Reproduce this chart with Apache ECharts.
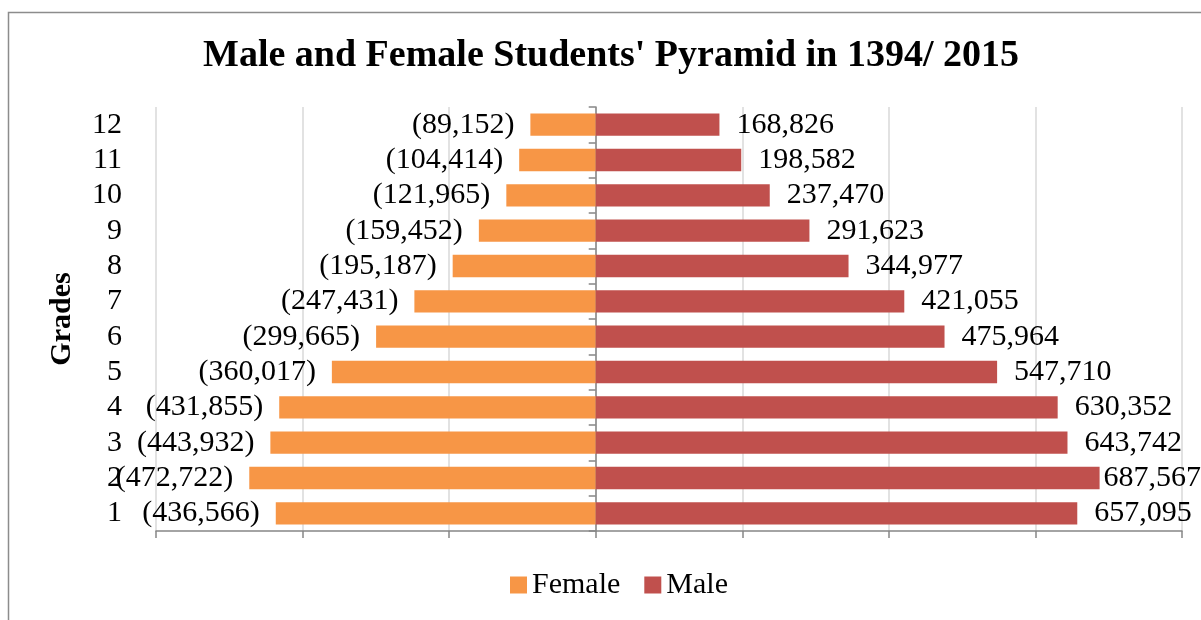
<!DOCTYPE html>
<html>
<head>
<meta charset="utf-8">
<script src="https://cdn.jsdelivr.net/npm/echarts@6/dist/echarts.min.js"></script>
<style>
  html, body { margin: 0; padding: 0; background: #fff; }
  #chart { width: 1201px; height: 620px; }
</style>
</head>
<body>
<div id="chart"></div>
<script>
// grades, bottom to top
var grades = ['1', '2', '3', '4', '5', '6', '7', '8', '9', '10', '11', '12'];
var female = [436566, 472722, 443932, 431855, 360017, 299665, 247431, 195187, 159452, 121965, 104414, 89152];
var male = [657095, 687567, 643742, 630352, 547710, 475964, 421055, 344977, 291623, 237470, 198582, 168826];

var font = 'Liberation Serif';
function fmt(v) {
    return Math.abs(v).toLocaleString('en-US');
}

var myChart = echarts.init(document.getElementById('chart'));
var option = {
    textStyle: { fontFamily: font },
    graphic: [{
        type: 'rect',
        shape: { x: 8.5, y: 12.5, width: 1300, height: 700 },
        style: { fill: 'none', stroke: '#8c8c8c', lineWidth: 1.5 }
    }],
    title: {
        text: "Male and Female Students' Pyramid in 1394/ 2015",
        left: 606,
        textAlign: 'center',
        top: 32,
        textStyle: { fontFamily: font, fontSize: 38, fontWeight: 'bold', color: '#000' }
    },
    legend: {
        data: ['Female', 'Male'],
        left: 505,
        top: 565,
        icon: 'rect',
        itemWidth: 17,
        itemHeight: 17,
        itemGap: 24,
        textStyle: { fontFamily: font, fontSize: 30, color: '#000' }
    },
    grid: { left: 156, right: 19, top: 107, bottom: 89 },
    xAxis: {
        type: 'value',
        min: -600000,
        max: 800000,
        interval: 200000,
        axisLabel: { show: false },
        axisLine: { show: true, lineStyle: { color: '#868686', width: 1.5 } },
        axisTick: { show: true, length: 7, lineStyle: { color: '#868686', width: 1.5 } },
        splitLine: { show: true, lineStyle: { color: '#d9d9d9', width: 1.5 } }
    },
    yAxis: [{
        type: 'category',
        data: grades,
        axisLine: { show: true, onZero: true, lineStyle: { color: '#868686', width: 1.5 } },
        axisTick: { show: true, length: 7, lineStyle: { color: '#868686', width: 1.5 } },
        axisLabel: { show: false }
    }, {
        type: 'category',
        data: grades,
        position: 'left',
        axisLine: { show: false, onZero: false },
        axisTick: { show: false },
        axisLabel: { show: true, interval: 0, margin: 34, color: '#000', fontFamily: font, fontSize: 30 },
        name: 'Grades',
        nameLocation: 'middle',
        nameGap: 79,
        nameTextStyle: { fontFamily: font, fontSize: 30, fontWeight: 'bold', color: '#000' }
    }],
    series: [{
        name: 'Female',
        type: 'bar',
        stack: 'total',
        barWidth: '63%',
        itemStyle: { color: '#F79646' },
        label: {
            show: true,
            position: 'left',
            distance: 16,
            color: '#000',
            fontFamily: font,
            fontSize: 30,
            formatter: function (p) { return '(' + fmt(p.value) + ')'; }
        },
        data: female.map(function (v) { return -v; })
    }, {
        name: 'Male',
        type: 'bar',
        stack: 'total',
        barWidth: '63%',
        itemStyle: { color: '#C0504D' },
        label: {
            show: true,
            position: 'right',
            distance: 17,
            color: '#000',
            fontFamily: font,
            fontSize: 30,
            formatter: function (p) { return fmt(p.value); }
        },
        labelLayout: function (p) {
            // keep labels inside the chart, like the original
            var r = p.labelRect;
            if (r.x + r.width > 1201) {
                return { x: 1201 - r.width, y: r.y, align: 'left', verticalAlign: 'top' };
            }
        },
        data: male
    }]
};
myChart.setOption(option);
</script>
</body>
</html>
